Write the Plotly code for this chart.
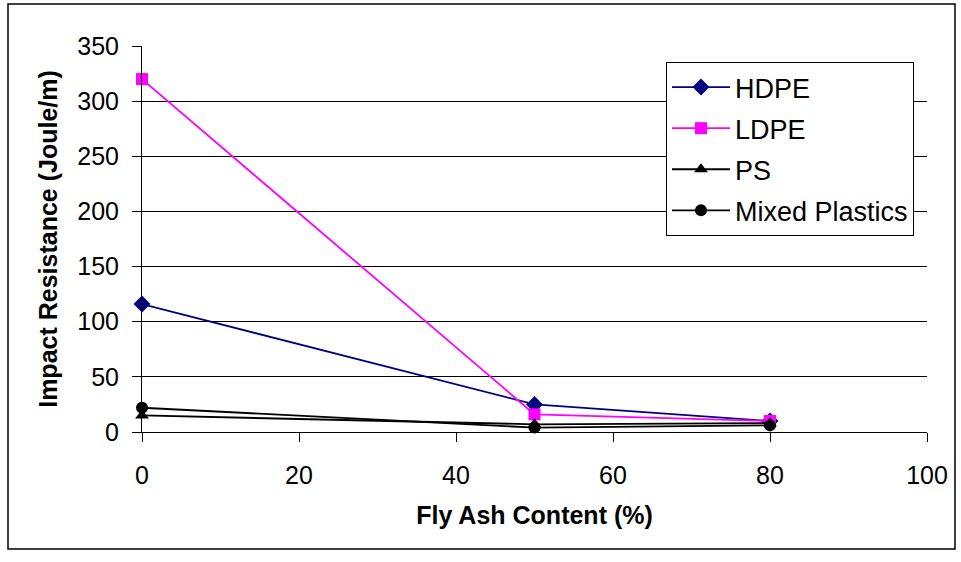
import plotly.graph_objects as go

# Fly ash content (%) and impact resistance (Joule/m) for each plastic
fly_ash = [0, 50, 80]
hdpe = [116, 25, 10]
ldpe = [320, 16, 10]
ps = [15, 7, 8]
mixed = [22, 4, 6]

FONT = "Liberation Sans, Arial, sans-serif"

series = [
    ("HDPE", hdpe, "#000080", "diamond", 13),
    ("LDPE", ldpe, "#FF00FF", "square", 12),
    ("PS", ps, "#000000", "triangle-up", 12),
    ("Mixed Plastics", mixed, "#000000", "circle", 12),
]

fig = go.Figure()
for name, vals, color, sym, size in series:
    fig.add_trace(go.Scatter(
        x=fly_ash, y=vals, name=name, mode="lines+markers",
        legendgroup=name,
        line=dict(color=color, width=1.8),
        marker=dict(symbol=sym, size=size, color=color, line=dict(width=0)),
        cliponaxis=False,
    ))

L, R, T, B = 142, 34, 46, 130
W, H = 961, 562
pw, ph = W - L - R, H - T - B

def px_x(p):
    return (p - L) / pw

def px_y(p):
    return (H - B - p) / ph

fig.update_layout(
    width=W, height=H,
    margin=dict(l=L, r=R, t=T, b=B),
    paper_bgcolor="white", plot_bgcolor="white",
    font=dict(family=FONT, size=25, color="black"),
    showlegend=True,
    legend=dict(
        x=px_x(666), y=px_y(62), xanchor="left", yanchor="top",
        bordercolor="black", borderwidth=1, bgcolor="white",
        font=dict(family=FONT, size=27, color="black"),
        traceorder="grouped", tracegroupgap=3, itemwidth=58,
    ),
    xaxis=dict(
        range=[0, 100], tickvals=[0, 20, 40, 60, 80, 100],
        showline=True, linecolor="black", linewidth=1,
        ticks="outside", ticklen=9, tickcolor="black",
        ticklabelstandoff=12, showgrid=False, zeroline=False,
        tickfont=dict(size=25),
        title=dict(text="<b>Fly Ash Content (%)</b>", font=dict(size=25), standoff=18),
    ),
    yaxis=dict(
        range=[0, 350], tickvals=[0, 50, 100, 150, 200, 250, 300, 350],
        showline=True, linecolor="black", linewidth=1,
        ticks="outside", ticklen=9, tickcolor="black",
        ticklabelstandoff=8,
        showgrid=True, gridcolor="black", gridwidth=1, zeroline=False,
        tickfont=dict(size=25),
        title=dict(text="<b>Impact Resistance (Joule/m)</b>", font=dict(size=25), standoff=12),
    ),
    shapes=[dict(
        type="rect", xref="paper", yref="paper",
        x0=px_x(8), x1=px_x(955), y0=px_y(549), y1=px_y(4),
        line=dict(color="black", width=1.5), fillcolor="rgba(0,0,0,0)", layer="below",
    )],
)

fig.write_html("out.html")
